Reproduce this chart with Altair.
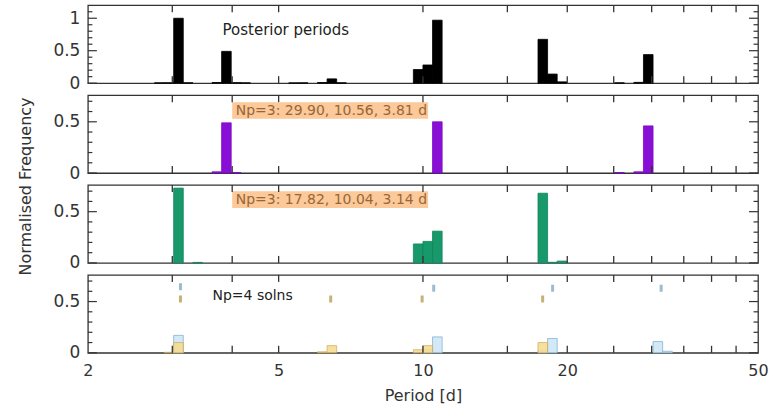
import altair as alt
import numpy as np
import pandas as pd

BIN_WIDTH_LOG = 0.02  # histogram bins, width in log10(period)

# Panel 1: posterior periods (black)
post_bins = [0.44, 0.46, 0.48, 0.50, 0.56, 0.58, 0.60, 0.62, 0.72, 0.74, 0.78, 0.80, 0.82,
             0.98, 1.00, 1.02, 1.24, 1.26, 1.28, 1.40, 1.44, 1.46]
post_freq = [0.005, 0.006, 1.00, 0.006, 0.01, 0.49, 0.008, 0.005, 0.004, 0.005, 0.01, 0.066, 0.006,
             0.21, 0.28, 0.97, 0.675, 0.14, 0.02, 0.005, 0.012, 0.44]

# Panel 2: Np=3 solution 29.90, 10.56, 3.81 d (purple)
solA_bins = [0.56, 0.58, 0.60, 1.02, 1.40, 1.44, 1.46]
solA_freq = [0.012, 0.49, 0.005, 0.50, 0.005, 0.012, 0.46]

# Panel 3: Np=3 solution 17.82, 10.04, 3.14 d (green)
solB_bins = [0.48, 0.52, 0.98, 1.00, 1.02, 1.24, 1.26, 1.28]
solB_freq = [0.73, 0.005, 0.185, 0.21, 0.31, 0.68, 0.006, 0.018]

# Panel 4: Np=4 solutions
np4a_bins = [0.48, 1.00, 1.02, 1.24, 1.26, 1.48, 1.50]     # blue
np4a_freq = [0.17, 0.03, 0.155, 0.02, 0.14, 0.11, 0.015]
np4b_bins = [0.46, 0.48, 0.78, 0.80, 0.98, 1.00, 1.24]     # yellow
np4b_freq = [0.005, 0.10, 0.01, 0.07, 0.03, 0.07, 0.10]
np4a_periods = [3.12, 10.53, 18.64, 31.4]
np4a_level = [0.645, 0.63, 0.63, 0.63]
np4b_periods = [3.12, 6.42, 9.96, 17.77]
np4b_level = [0.525, 0.525, 0.525, 0.525]

# axis ticks / labels
x_label_values = [2, 5, 10, 20, 50]
x_tick_values = [3, 4, 5, 10, 15, 20, 25, 30, 35, 40, 45]
y_major_top = [0, 0.5, 1]
y_minor_top = [0.1, 0.2, 0.3, 0.4, 0.6, 0.7, 0.8, 0.9, 1.1]
y_major = [0, 0.5]
y_minor = [0.1, 0.2, 0.3, 0.4, 0.6, 0.7]

W, H = 671, 78
AX = "#333333"
FONT = "DejaVu Sans"

xscale = alt.Scale(type="log", domain=[2, 50], nice=False)


def hist_df(bins, freq):
    b = np.array(bins, dtype=float)
    return pd.DataFrame({"lo": 10 ** b, "hi": 10 ** (b + BIN_WIDTH_LOG), "f": freq})


def bars(bins, freq, xa, ya, yscale, fill, stroke, opacity=1.0):
    return alt.Chart(hist_df(bins, freq)).mark_rect(
        fill=fill, stroke=stroke, strokeWidth=0.8, opacity=opacity
    ).encode(
        x=alt.X("lo:Q", scale=xscale, axis=xa),
        x2="hi:Q",
        y=alt.Y("f:Q", scale=yscale, axis=ya),
        y2=alt.datum(0),
    )


def frame_ticks(xa, ya, yscale, ymaj, ymin):
    layers = []
    xt = pd.DataFrame({"t": x_tick_values})
    for y0, y1 in [(0, 7), (H, H - 7)]:
        layers.append(alt.Chart(xt).mark_rule(color=AX, strokeWidth=1.3).encode(
            x=alt.X("t:Q", scale=xscale, axis=xa), y=alt.value(y0), y2=alt.value(y1)))
    for vals, ln in [(ymaj, 9), (ymin, 4.5)]:
        d = pd.DataFrame({"v": vals})
        layers.append(alt.Chart(d).mark_rule(color=AX, strokeWidth=1.2).encode(
            y=alt.Y("v:Q", scale=yscale, axis=ya), x=alt.value(0), x2=alt.value(ln)))
        layers.append(alt.Chart(d).mark_rule(color=AX, strokeWidth=1.2).encode(
            y=alt.Y("v:Q", scale=yscale, axis=ya), x=alt.value(W), x2=alt.value(W - ln)))
    return layers


def yaxis(values, title=None, titleY=None):
    kw = dict(values=values, format="~g", ticks=False, tickSize=0, domain=False, grid=False,
              labelFontSize=17, labelFont=FONT, labelColor="#333", labelPadding=8,
              minExtent=40, maxExtent=40)
    if title:
        kw.update(title=title, titleFontSize=16, titleFont=FONT, titleFontWeight="normal",
                  titleColor="#333", titlePadding=14, titleY=titleY)
    else:
        kw.update(title=None)
    return alt.Axis(**kw)


def text(label, x, y, xa, ya, yscale, size, color):
    d = pd.DataFrame({"x": [x], "y": [y], "t": [label]})
    return alt.Chart(d).mark_text(align="left", baseline="middle", font=FONT,
                                  fontSize=size, color=color).encode(
        x=alt.X("x:Q", scale=xscale, axis=xa),
        y=alt.Y("y:Q", scale=yscale, axis=ya),
        text="t:N")


def box(x0, x1, y0, y1, xa, ya, yscale):
    d = pd.DataFrame({"x0": [x0], "x1": [x1], "y0": [y0], "y1": [y1]})
    return alt.Chart(d).mark_rect(fill="#fbc99a").encode(
        x=alt.X("x0:Q", scale=xscale, axis=xa), x2="x1:Q",
        y=alt.Y("y0:Q", scale=yscale, axis=ya), y2="y1:Q")


ys1 = alt.Scale(domain=[0, 1.2], nice=False, zero=True)
ys = alt.Scale(domain=[0, 0.76], nice=False, zero=True)

# panel 1
ya1 = yaxis(y_major_top)
p1 = alt.layer(
    bars(post_bins, post_freq, None, ya1, ys1, "#000000", "#000000"),
    *frame_ticks(None, ya1, ys1, y_major_top, y_minor_top),
    text("Posterior periods", 3.82, 0.82, None, ya1, ys1, 15, "#222"),
).properties(width=W, height=H)

# panel 2
ya2 = yaxis(y_major, "Normalised Frequency", 91)
p2 = alt.layer(
    box(4.0, 10.25, 0.53, 0.69, None, ya2, ys),
    bars(solA_bins, solA_freq, None, ya2, ys, "#8a0fd6", "#7a0cc0"),
    *frame_ticks(None, ya2, ys, y_major, y_minor),
    text("Np=3: 29.90, 10.56, 3.81 d", 4.07, 0.61, None, ya2, ys, 14, "#9a6636"),
).properties(width=W, height=H)

# panel 3
ya3 = yaxis(y_major)
p3 = alt.layer(
    box(4.0, 10.25, 0.535, 0.70, None, ya3, ys),
    bars(solB_bins, solB_freq, None, ya3, ys, "#17996b", "#12855c"),
    *frame_ticks(None, ya3, ys, y_major, y_minor),
    text("Np=3: 17.82, 10.04, 3.14 d", 4.07, 0.617, None, ya3, ys, 14, "#9a6636"),
).properties(width=W, height=H)

# panel 4
xa4 = alt.Axis(values=x_label_values, format="~g", ticks=False, tickSize=0, domain=False,
               grid=False, labelFlush=False, labelFontSize=16, labelFont=FONT,
               labelColor="#333", labelPadding=10, title="Period [d]", titleFontSize=16,
               titleFont=FONT, titleFontWeight="normal", titleColor="#333", titlePadding=9)
ya4 = yaxis(y_major)

mk_a = pd.DataFrame({"p": np4a_periods, "v": np4a_level})
mk_b = pd.DataFrame({"p": np4b_periods, "v": np4b_level})

p4 = alt.layer(
    bars(np4a_bins, np4a_freq, xa4, ya4, ys, "#d3e9f7", "#86b4d0"),
    bars(np4b_bins, np4b_freq, xa4, ya4, ys, "#f7dc94", "#cfa957", opacity=0.9),
    alt.Chart(mk_a).mark_tick(orient="vertical", size=7, thickness=3, color="#6f9fbf").encode(
        x=alt.X("p:Q", scale=xscale, axis=xa4), y=alt.Y("v:Q", scale=ys, axis=ya4)),
    alt.Chart(mk_b).mark_tick(orient="vertical", size=7, thickness=3, color="#b0903f").encode(
        x=alt.X("p:Q", scale=xscale, axis=xa4), y=alt.Y("v:Q", scale=ys, axis=ya4)),
    *frame_ticks(xa4, ya4, ys, y_major, y_minor),
    text("Np=4 solns", 3.64, 0.556, xa4, ya4, ys, 14, "#222"),
).properties(width=W, height=H)

chart = alt.vconcat(p1, p2, p3, p4, spacing=12, bounds="flush").properties(
    padding={"left": 17, "top": 3, "right": 3, "bottom": 3}
).configure_view(stroke=AX, strokeWidth=1.3)

chart.save("out.html", embed_options={"renderer": "svg", "actions": False})
